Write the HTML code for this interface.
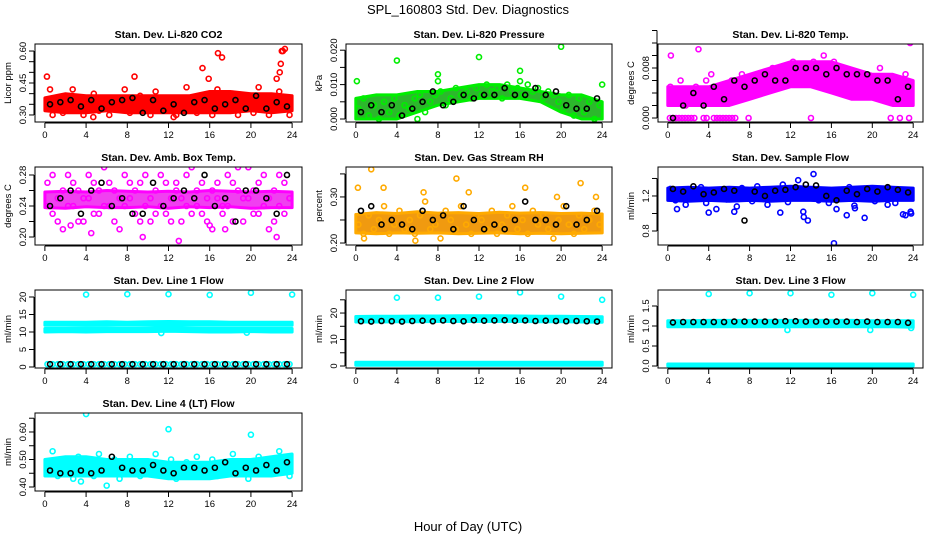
<!DOCTYPE html>
<html><head><meta charset="utf-8"><style>
html,body{margin:0;padding:0;background:#fff;}
svg{display:block;font-family:"Liberation Sans",Arial,sans-serif;}
</style></head><body>
<svg id="chart" width="936" height="540" viewBox="0 0 936 540" xmlns="http://www.w3.org/2000/svg">
<text x="468" y="14" font-size="13" text-anchor="middle">SPL_160803  Std. Dev. Diagnostics</text>
<text x="468" y="531" font-size="13" text-anchor="middle">Hour of Day (UTC)</text>
</svg>
<script>
const hh = [0.25,0.75,1.25,1.75,2.25,2.75,3.25,3.75,4.25,4.75,5.25,5.75,6.25,6.75,7.25,7.75,8.25,8.75,9.25,9.75,10.25,10.75,11.25,11.75,12.25,12.75,13.25,13.75,14.25,14.75,15.25,15.75,16.25,16.75,17.25,17.75,18.25,18.75,19.25,19.75,20.25,20.75,21.25,21.75,22.25,22.75,23.25,23.75];
const hb = [0.5,1.5,2.5,3.5,4.5,5.5,6.5,7.5,8.5,9.5,10.5,11.5,12.5,13.5,14.5,15.5,16.5,17.5,18.5,19.5,20.5,21.5,22.5,23.5];
const bandH = [0,2,4,6,8,10,12,14,16,18,20,22,24];
const xTicks = [0,4,8,12,16,20,24];

const co2Lo = [0.32,0.31,0.31,0.32,0.31,0.31,0.31,0.31,0.31,0.31,0.32,0.31,0.32];
const co2Hi = [0.38,0.40,0.39,0.39,0.39,0.39,0.39,0.39,0.41,0.41,0.40,0.40,0.39];
const co2Pts = [0.34,0.30,0.36,0.31,0.38,0.33,0.35,0.30,0.37,0.40,0.32,0.36,0.30,0.38,0.34,0.42,0.31,0.37,0.39,0.33,0.30,0.41,0.35,0.32,0.38,0.30,0.36,0.43,0.33,0.31,0.39,0.35,0.30,0.42,0.37,0.33,0.40,0.30,0.36,0.34,0.31,0.43,0.38,0.30,0.35,0.41,0.33,0.30];
const co2Black = [0.35,0.36,0.37,0.34,0.37,0.33,0.36,0.37,0.38,0.31,0.37,0.32,0.35,0.31,0.36,0.37,0.33,0.35,0.37,0.33,0.39,0.33,0.36,0.34];
const co2OutX = [0.2,0.5,8.7,15.3,15.9,16.8,17.2,22.5,22.8,22.9,23,23.1,2.7,4.7,12.5,23.3];
const co2OutY = [0.48,0.42,0.48,0.52,0.47,0.59,0.57,0.47,0.50,0.54,0.60,0.60,0.42,0.29,0.29,0.61];

const presLo = [0.000,0.000,0.000,0.002,0.004,0.005,0.006,0.006,0.006,0.005,0.002,0.000,0.000];
const presHi = [0.006,0.007,0.007,0.008,0.008,0.009,0.010,0.010,0.009,0.008,0.007,0.007,0.005];
const presPts = [0.003,0.006,0.001,0.004,0.000,0.005,0.002,0.006,0.001,0.004,0.003,0.006,0.007,0.002,0.005,0.007,0.008,0.004,0.006,0.009,0.007,0.008,0.006,0.009,0.007,0.010,0.008,0.009,0.006,0.010,0.008,0.009,0.007,0.010,0.008,0.009,0.006,0.008,0.007,0.005,0.003,0.007,0.001,0.006,0.002,0.005,0.000,0.004];
const presBlack = [0.002,0.004,0.002,0.004,0.001,0.003,0.005,0.008,0.004,0.005,0.007,0.006,0.007,0.007,0.009,0.007,0.007,0.009,0.007,0.008,0.004,0.003,0.003,0.006];
const presOutX = [0.1,4,8,8,12,16,16,20,24,6];
const presOutY = [0.011,0.017,0.013,0.011,0.018,0.014,0.011,0.021,0.010,0.000];

const tempLo = [0.002,0.002,0.002,0.002,0.003,0.004,0.005,0.005,0.004,0.003,0.003,0.002,0.002];
const tempHi = [0.005,0.005,0.005,0.006,0.007,0.008,0.009,0.009,0.009,0.008,0.007,0.007,0.006];
const tempPts = [0.005,0.003,0.006,0.002,0.004,0.005,0.003,0.006,0.007,0.004,0.005,0.003,0.006,0.004,0.007,0.005,0.006,0.004,0.007,0.006,0.008,0.005,0.007,0.006,0.009,0.007,0.008,0.006,0.009,0.007,0.010,0.008,0.009,0.006,0.008,0.007,0.005,0.007,0.004,0.006,0.005,0.008,0.004,0.006,0.003,0.005,0.007,0.004];
const tempBlack = [0.000,0.002,0.004,0.002,0.005,0.003,0.006,0.005,0.006,0.007,0.006,0.006,0.008,0.008,0.008,0.007,0.008,0.007,0.007,0.007,0.006,0.006,0.003,0.005];
const tempOutX = [0.2,0.5,0.8,1.1,1.4,1.7,2,2.3,2.6,3.5,3.8,4.5,4.8,5.1,5.4,5.7,6,6.3,6.6,7.9,14,21.8,22.7,23.6,1.8,3,3,0.3,23.7,23.7];
const tempOutY = [0,0,0,0,0,0,0,0,0,0,0,0,0,0,0,0,0,0,0,0,0,0,0,0,0.014,0.013,0.011,0.010,0.013,0.012];

const ambLo = [0.238,0.237,0.239,0.238,0.238,0.239,0.237,0.239,0.238,0.239,0.237,0.238,0.238];
const ambHi = [0.258,0.259,0.258,0.260,0.259,0.258,0.259,0.258,0.260,0.259,0.258,0.259,0.258];
const ambPts = [0.27,0.23,0.25,0.21,0.28,0.24,0.26,0.22,0.25,0.27,0.23,0.29,0.24,0.26,0.21,0.28,0.25,0.23,0.27,0.24,0.22,0.26,0.28,0.23,0.25,0.27,0.22,0.24,0.29,0.26,0.23,0.25,0.21,0.27,0.24,0.28,0.22,0.26,0.25,0.29,0.23,0.27,0.24,0.21,0.26,0.28,0.23,0.25];
const ambPts2 = [0.24,0.28,0.22,0.26,0.24,0.27,0.22,0.25,0.28,0.23,0.26,0.24,0.27,0.22,0.25,0.24,0.27,0.26,0.22,0.28,0.25,0.23,0.24,0.27,0.22,0.26,0.25,0.28,0.23,0.24,0.27,0.22,0.26,0.25,0.23,0.24,0.27,0.29,0.22,0.25,0.26,0.23,0.28,0.25,0.22,0.24,0.27,0.25];
const ambBlack = [0.24,0.25,0.26,0.23,0.26,0.27,0.24,0.25,0.23,0.23,0.27,0.24,0.25,0.26,0.25,0.28,0.24,0.25,0.22,0.26,0.26,0.25,0.23,0.28];
const ambOutX = [4.5,9.5,13,16,17.5,22.5,2.5];
const ambOutY = [0.205,0.2,0.195,0.215,0.21,0.2,0.215];

const rhLo = [0.222,0.220,0.222,0.221,0.222,0.220,0.221,0.222,0.220,0.221,0.220,0.221,0.222];
const rhHi = [0.262,0.266,0.264,0.268,0.265,0.266,0.264,0.267,0.265,0.266,0.264,0.265,0.263];
const rhPts = [0.24,0.22,0.26,0.23,0.25,0.28,0.22,0.24,0.27,0.23,0.25,0.22,0.26,0.29,0.23,0.24,0.21,0.27,0.25,0.23,0.28,0.24,0.22,0.26,0.25,0.23,0.27,0.22,0.24,0.26,0.28,0.23,0.25,0.22,0.27,0.24,0.26,0.23,0.21,0.25,0.28,0.24,0.22,0.26,0.23,0.25,0.27,0.24];
const rhBlack = [0.27,0.28,0.24,0.25,0.24,0.23,0.27,0.25,0.26,0.23,0.28,0.25,0.23,0.24,0.23,0.25,0.29,0.25,0.25,0.24,0.28,0.24,0.25,0.27];
const rhOutX = [0.2,1.5,2.7,6.6,9.8,11,16.5,19.6,21.9,23.4,0.8,5.8];
const rhOutY = [0.32,0.36,0.32,0.31,0.34,0.31,0.32,0.30,0.33,0.30,0.21,0.205];

const flowLo = [1.15,1.14,1.15,1.14,1.15,1.14,1.15,1.15,1.14,1.15,1.14,1.15,1.15];
const flowHi = [1.29,1.30,1.29,1.30,1.29,1.30,1.31,1.30,1.29,1.30,1.31,1.30,1.29];
const flowPts = [1.28,1.15,1.22,1.10,1.25,1.18,1.30,1.12,1.20,1.05,1.27,1.16,1.23,1.08,1.29,1.19,1.14,1.31,1.21,1.10,1.26,1.17,1.33,1.13,1.24,1.38,1.02,1.20,1.45,1.15,1.27,1.12,0.66,1.22,1.18,1.30,1.09,1.25,0.95,1.20,1.14,1.28,1.18,1.23,1.12,1.27,0.98,1.02];
const flowBlack = [1.28,1.25,1.31,1.22,1.24,1.28,1.26,0.92,1.25,1.20,1.26,1.27,1.30,1.33,1.32,1.20,1.15,1.26,1.22,1.28,1.25,1.30,1.27,1.24];
const flowOutX = [0.9,4.0,6.5,11,13.3,13.7,16.5,17.5,18.3,21.5,23.0,23.8];
const flowOutY = [1.05,1.01,1.02,1.01,0.96,0.92,1.05,0.98,1.06,1.10,0.99,1.00];

const l1Lo = [11.9,11.9,11.9,12.0,11.9,12.0,12.0,12.0,11.9,11.9,11.9,11.9,11.9];
const l1Hi = [12.8,12.8,12.8,12.9,12.8,12.9,13.0,12.9,12.9,12.8,12.8,12.8,12.8];
const l1Lo2 = [10.0,10.1,10.0,10.1,10.1,10.1,10.2,10.1,10.0,10.0,10.1,10.0,10.0];
const l1Hi2 = [11.0,11.0,11.1,11.1,11.0,11.1,11.2,11.1,11.0,11.0,11.0,11.0,11.0];
const l1Pts = [0.8,0.8,0.8,0.8,0.8,0.8,0.8,0.8,0.8,0.8,0.8,0.8,0.8,0.8,0.8,0.8,0.8,0.8,0.8,0.8,0.8,0.8,0.8,0.8,0.8,0.8,0.8,0.8,0.8,0.8,0.8,0.8,0.8,0.8,0.8,0.8,0.8,0.8,0.8,0.8,0.8,0.8,0.8,0.8,0.8,0.8,0.8,0.8];
const l1Black = [0.8,0.8,0.8,0.8,0.8,0.8,0.8,0.8,0.8,0.8,0.8,0.8,0.8,0.8,0.8,0.8,0.8,0.8,0.8,0.8,0.8,0.8,0.8,0.8];
const l1OutX = [4,8,12,16,20,24,11.3,19.6];
const l1OutY = [20.7,20.8,20.8,20.6,21.2,20.7,9.7,9.8];

const l2Lo = [16.6,16.6,16.7,16.7,16.8,16.8,16.8,16.8,16.8,16.7,16.7,16.6,16.5];
const l2Hi = [18.7,18.8,18.8,18.9,18.9,19.0,19.0,19.0,18.9,18.8,18.8,18.7,18.6];
const l2Lo2 = [0.3,0.3,0.3,0.3,0.3,0.3,0.3,0.3,0.3,0.3,0.3,0.3,0.3];
const l2Hi2 = [1.4,1.4,1.4,1.4,1.4,1.4,1.4,1.4,1.4,1.4,1.4,1.4,1.4];
const l2Black = [16.9,16.8,17.0,16.9,16.8,17.0,17.1,16.9,17.2,17.0,16.9,17.3,17.1,17.2,17.3,17.1,17.2,17.0,17.1,17.0,16.9,17.0,16.9,16.8];
const l2OutX = [4,8,12,16,20,24];
const l2OutY = [25.8,25.8,26.2,27.8,26.2,25.0];

const l3Lo = [0.98,0.98,0.98,0.98,0.98,0.98,0.98,0.98,0.98,0.98,0.98,0.98,0.97];
const l3Hi = [1.13,1.13,1.14,1.14,1.14,1.14,1.14,1.14,1.14,1.14,1.13,1.13,1.13];
const l3Lo2 = [0.0,0.0,0.0,0.0,0.0,0.0,0.0,0.0,0.0,0.0,0.0,0.0,0.0];
const l3Hi2 = [0.05,0.05,0.05,0.05,0.05,0.05,0.05,0.05,0.05,0.05,0.05,0.05,0.05];
const l3Black = [1.09,1.10,1.10,1.10,1.10,1.10,1.11,1.11,1.11,1.11,1.11,1.12,1.12,1.11,1.11,1.11,1.11,1.11,1.10,1.11,1.10,1.10,1.10,1.08];
const l3OutX = [4,8,12,16,20,24,11.7,19.8,23.8];
const l3OutY = [1.8,1.82,1.82,1.78,1.82,1.78,0.9,0.9,0.95];

const l4Lo = [0.44,0.44,0.44,0.44,0.44,0.44,0.43,0.43,0.43,0.44,0.44,0.44,0.45];
const l4Hi = [0.50,0.51,0.51,0.50,0.50,0.50,0.49,0.49,0.49,0.50,0.50,0.51,0.52];
const l4Pts = [0.47,0.53,0.44,0.50,0.48,0.43,0.51,0.46,0.49,0.44,0.52,0.47,0.45,0.50,0.43,0.48,0.51,0.46,0.44,0.49,0.47,0.52,0.45,0.48,0.50,0.43,0.47,0.49,0.44,0.51,0.46,0.48,0.50,0.44,0.47,0.45,0.52,0.46,0.49,0.43,0.48,0.51,0.45,0.47,0.50,0.53,0.46,0.44];
const l4Black = [0.46,0.45,0.45,0.46,0.45,0.46,0.51,0.47,0.46,0.46,0.48,0.46,0.45,0.47,0.47,0.46,0.47,0.49,0.45,0.47,0.46,0.48,0.46,0.49];
const l4OutX = [4.0,12.0,20.0,6.0,3.5];
const l4OutY = [0.665,0.61,0.59,0.405,0.42];

const colL = [35,346,658], colR = [302,612,923];
const rowT = [44,167,290,413], rowB = [122,245,368,491];
const NS = 'http://www.w3.org/2000/svg';
const svg = document.getElementById('chart');
function mk(tag, attrs, parent){ const e=document.createElementNS(NS,tag); for(const k in attrs) e.setAttribute(k,attrs[k]); (parent||svg).appendChild(e); return e; }

const panels = [
 {key:'co2',title:'Stan. Dev. Li-820 CO2',ylab:'Licor ppm',r:0,c:0,dom:[0.267,0.633],ticks:[0.30,0.35,0.40,0.45,0.50,0.55,0.60],labs:['0.30','0.45','0.60'],labv:[0.30,0.45,0.60],col:'#ff0000',fill:'#ff0000',bands:[[co2Lo,co2Hi]],pts:[co2Pts],black:co2Black,ox:co2OutX,oy:co2OutY},
 {key:'pressure',title:'Stan. Dev. Li-820 Pressure',ylab:'kPa',r:0,c:1,dom:[-0.00087,0.0218],ticks:[0,0.005,0.010,0.015,0.020],labs:['0.000','0.010','0.020'],labv:[0,0.010,0.020],col:'#00ee00',fill:'#2cb82c',bands:[[presLo,presHi]],pts:[presPts],black:presBlack,ox:presOutX,oy:presOutY},
 {key:'temp',title:'Stan. Dev. Li-820 Temp.',ylab:'degrees C',r:0,c:2,dom:[-0.00064,0.01184],ticks:[0,0.002,0.004,0.006,0.008,0.010,0.012,0.014],labs:['0.000','0.008'],labv:[0,0.008],col:'#ff00ff',fill:'#ff00ff',bands:[[tempLo,tempHi]],pts:[tempPts],black:tempBlack,ox:tempOutX,oy:tempOutY},
 {key:'amb-box-temp',title:'Stan. Dev. Amb. Box Temp.',ylab:'degrees C',r:1,c:0,dom:[0.1897,0.2903],ticks:[0.20,0.22,0.24,0.26,0.28],labs:['0.20','0.24','0.28'],labv:[0.20,0.24,0.28],col:'#ff00ff',fill:'#f040f0',bands:[[ambLo,ambHi]],pts:[ambPts,ambPts2],black:ambBlack,ox:ambOutX,oy:ambOutY},
 {key:'gas-rh',title:'Stan. Dev. Gas Stream RH',ylab:'percent',r:1,c:1,dom:[0.1957,0.365],ticks:[0.20,0.25,0.30,0.35],labs:['0.20','0.30'],labv:[0.20,0.30],col:'#ffaa00',fill:'#f09a10',bands:[[rhLo,rhHi]],pts:[rhPts],black:rhBlack,ox:rhOutX,oy:rhOutY},
 {key:'sample-flow',title:'Stan. Dev. Sample Flow',ylab:'ml/min',r:1,c:2,dom:[0.64,1.531],ticks:[0.8,1.0,1.2,1.4],labs:['0.8','1.2'],labv:[0.8,1.2],col:'#0000ff',fill:'#0000ff',bands:[[flowLo,flowHi]],pts:[flowPts],black:flowBlack,ox:flowOutX,oy:flowOutY},
 {key:'line1-flow',title:'Stan. Dev. Line 1 Flow',ylab:'ml/min',r:2,c:0,dom:[-0.29,22.0],ticks:[0,5,10,15,20],labs:['0','5','10','15','20'],labv:[0,5,10,15,20],col:'#00ffff',fill:'#00ffff',bands:[[l1Lo,l1Hi],[l1Lo2,l1Hi2]],pts:[l1Pts],black:l1Black,ox:l1OutX,oy:l1OutY},
 {key:'line2-flow',title:'Stan. Dev. Line 2 Flow',ylab:'ml/min',r:2,c:1,dom:[-0.75,28.7],ticks:[0,5,10,15,20,25],labs:['0','10','20'],labv:[0,10,20],col:'#00ffff',fill:'#00ffff',bands:[[l2Lo,l2Hi],[l2Lo2,l2Hi2]],pts:[],black:l2Black,ox:l2OutX,oy:l2OutY},
 {key:'line3-flow',title:'Stan. Dev. Line 3 Flow',ylab:'ml/min',r:2,c:2,dom:[-0.05,1.9],ticks:[0,0.5,1.0,1.5],labs:['0.0','0.5','1.0','1.5'],labv:[0,0.5,1.0,1.5],col:'#00ffff',fill:'#00ffff',bands:[[l3Lo,l3Hi],[l3Lo2,l3Hi2]],pts:[],black:l3Black,ox:l3OutX,oy:l3OutY},
 {key:'line4-flow',title:'Stan. Dev. Line 4 (LT) Flow',ylab:'ml/min',r:3,c:0,dom:[0.3855,0.669],ticks:[0.40,0.45,0.50,0.55,0.60,0.65],labs:['0.40','0.50','0.60'],labv:[0.40,0.50,0.60],col:'#00ffff',fill:'#00ffff',bands:[[l4Lo,l4Hi]],pts:[l4Pts],black:l4Black,ox:l4OutX,oy:l4OutY}
];

panels.forEach(p=>{
  const L=colL[p.c], R=colR[p.c], T=rowT[p.r], B=rowB[p.r];
  const x0=L+(R-L)*0.037, x1=R-(R-L)*0.037;
  const X=h=>x0+(x1-x0)*h/24;
  const Y=v=>B-(B-T)*(v-p.dom[0])/(p.dom[1]-p.dom[0]);
  const g=mk('g',{});
  
  
  const clip=mk('clipPath',{id:'clip-'+p.key},g);
  mk('rect',{x:L,y:T,width:R-L,height:B-T},clip);
  const plot=mk('g',{'clip-path':'url(#clip-'+p.key+')'},g);
  p.bands.forEach((bd,i)=>{
    let d='';
    bandH.forEach((h,j)=>{ d+=(j?'L':'M')+X(h).toFixed(1)+' '+Y(bd[1][j]).toFixed(1); });
    for(let j=bandH.length-1;j>=0;j--) d+='L'+X(bandH[j]).toFixed(1)+' '+Y(bd[0][j]).toFixed(1);
    const e=mk('path',{d:d+'Z',fill:p.fill,stroke:p.col,'stroke-width':3,'stroke-linejoin':'round'},plot);
    
    
  });
  p.pts.forEach(arr=>{
    arr.forEach((v,i)=>{
      const e=mk('circle',{cx:X(hh[i]),cy:Y(v),r:2.5,fill:'none',stroke:p.col,'stroke-width':1.6},plot);
      
      
    });
  });
  p.ox.forEach((h,i)=>{
    const e=mk('circle',{cx:X(h),cy:Y(p.oy[i]),r:2.5,fill:'none',stroke:p.col,'stroke-width':1.6},plot);
    
    
  });
  p.black.forEach((v,i)=>{
    const e=mk('circle',{cx:X(hb[i]),cy:Y(v),r:2.5,fill:'none',stroke:'#000','stroke-width':1.6},plot);
    
    
  });
  const box=mk('rect',{x:L,y:T,width:R-L,height:B-T,fill:'none',stroke:'#000','stroke-width':1},g);
  
  
  const t=mk('text',{x:(L+R)/2,y:T-6,'font-size':10.5,'font-weight':'bold','text-anchor':'middle'},g);
  t.textContent=p.title;
  
  
  mk('line',{x1:x0,y1:B+1,x2:x1,y2:B+1,stroke:'#000'},g);
  xTicks.forEach(h=>{
    mk('line',{x1:X(h),y1:B+1,x2:X(h),y2:B+6,stroke:'#000'},g);
    const e=mk('text',{x:X(h),y:B+16,'font-size':9.5,'text-anchor':'middle'},g);
    e.textContent=h;
    
    
  });
  mk('line',{x1:L-1,y1:Y(p.ticks[0]),x2:L-1,y2:Y(p.ticks[p.ticks.length-1]),stroke:'#000'},g);
  p.ticks.forEach(v=>{ mk('line',{x1:L-6,y1:Y(v),x2:L-1,y2:Y(v),stroke:'#000'},g); });
  p.labs.forEach((s,i)=>{
    const yy=Y(p.labv[i]);
    const e=mk('text',{x:0,y:0,'font-size':9.5,'text-anchor':'middle',transform:'translate('+(L-9)+','+yy+') rotate(-90)'},g);
    e.textContent=s;
    
    
  });
  const yl=mk('text',{x:0,y:0,'font-size':9.5,'text-anchor':'middle',transform:'translate('+(L-24)+','+((T+B)/2)+') rotate(-90)'},g);
  yl.textContent=p.ylab;
  
  
});
</script>
</body></html>
